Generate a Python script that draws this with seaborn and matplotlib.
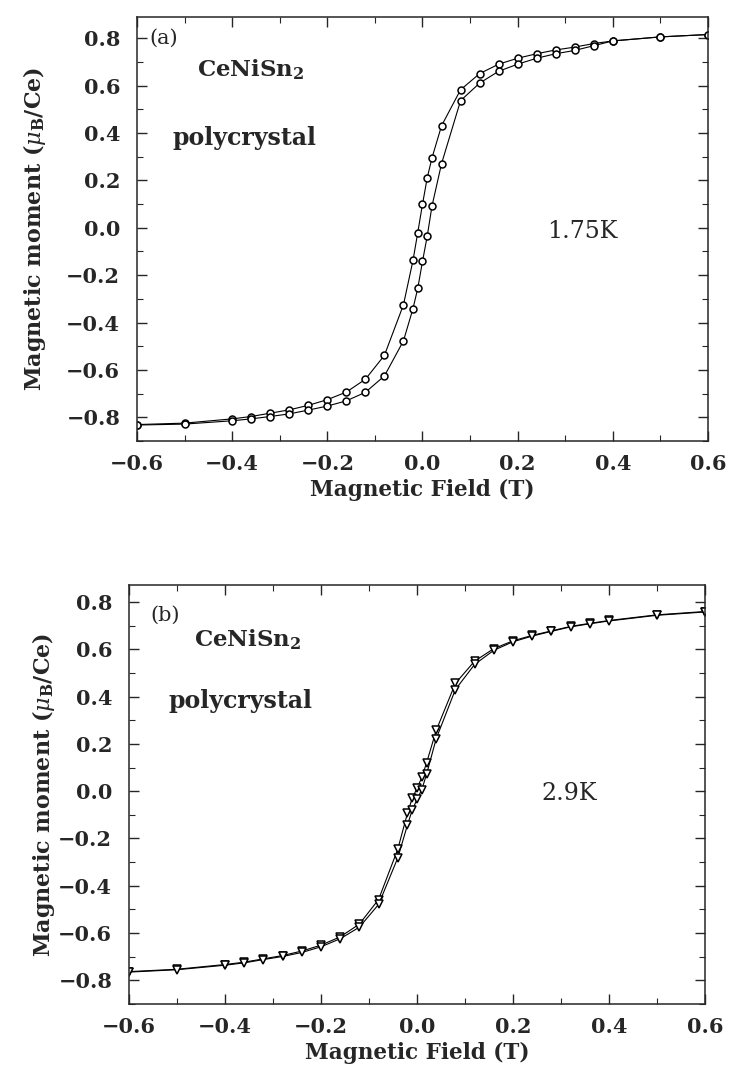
import numpy as np
import pandas as pd
import matplotlib
matplotlib.use("Agg")
import matplotlib.pyplot as plt
import seaborn as sns
from matplotlib.ticker import MultipleLocator, FuncFormatter

# ---------------- data ----------------
# panel (a): 1.75 K, descending branch (from +0.6 T to -0.6 T)
a_down_field = [0.6, 0.5, 0.4, 0.36, 0.32, 0.28, 0.24, 0.2, 0.16, 0.12, 0.08, 0.04,
                0.02, 0.01, 0.0, -0.01, -0.02, -0.04, -0.08, -0.12, -0.16, -0.2,
                -0.24, -0.28, -0.32, -0.36, -0.4, -0.5, -0.6]
a_down_moment = [0.815, 0.805, 0.788, 0.777, 0.762, 0.750, 0.734, 0.715, 0.690, 0.650,
                 0.582, 0.430, 0.295, 0.211, 0.099, -0.021, -0.138, -0.325, -0.538,
                 -0.639, -0.693, -0.725, -0.749, -0.768, -0.782, -0.796, -0.806,
                 -0.824, -0.830]
# panel (a): ascending branch (from -0.6 T to +0.6 T)
a_up_field = [-0.6, -0.5, -0.4, -0.36, -0.32, -0.28, -0.24, -0.2, -0.16, -0.12, -0.08,
              -0.04, -0.02, -0.01, 0.0, 0.01, 0.02, 0.04, 0.08, 0.12, 0.16, 0.2, 0.24,
              0.28, 0.32, 0.36, 0.4, 0.5, 0.6]
a_up_moment = [-0.832, -0.828, -0.814, -0.806, -0.796, -0.785, -0.769, -0.752, -0.730,
               -0.694, -0.625, -0.477, -0.341, -0.256, -0.142, -0.035, 0.092, 0.270,
               0.536, 0.610, 0.660, 0.690, 0.715, 0.734, 0.748, 0.768, 0.788, 0.805,
               0.815]

# panel (b): 2.9 K
b_down_field = a_down_field
b_down_moment = [0.760, 0.746, 0.722, 0.710, 0.697, 0.678, 0.659, 0.636, 0.603, 0.550,
                 0.456, 0.257, 0.120, 0.058, 0.012, -0.030, -0.094, -0.245, -0.458,
                 -0.562, -0.616, -0.651, -0.676, -0.695, -0.709, -0.723, -0.733,
                 -0.753, -0.763]
b_up_field = a_up_field
b_up_moment = [-0.765, -0.755, -0.736, -0.726, -0.712, -0.699, -0.682, -0.658, -0.624,
               -0.575, -0.479, -0.282, -0.144, -0.080, -0.035, 0.007, 0.072, 0.222,
               0.430, 0.536, 0.596, 0.632, 0.656, 0.676, 0.695, 0.708, 0.720, 0.744,
               0.758]

x_ticks = [-0.6, -0.4, -0.2, 0.0, 0.2, 0.4, 0.6]
y_ticks = [-0.8, -0.6, -0.4, -0.2, 0.0, 0.2, 0.4, 0.6, 0.8]
temps = ["1.75K", "2.9K"]
panel_tags = ["(a)", "(b)"]

# ---------------- style ----------------
sns.set_style("ticks")
plt.rcParams["font.family"] = ["DejaVu Serif"]
plt.rcParams["mathtext.fontset"] = "dejavuserif"
plt.rcParams["xtick.direction"] = "in"
plt.rcParams["ytick.direction"] = "in"

fig = plt.figure(figsize=(7.34, 10.76), dpi=100)
ax_a = fig.add_axes([0.1866, 0.590, 0.7780, 0.394])
ax_b = fig.add_axes([0.1757, 0.0669, 0.7848, 0.3894])


def make_df(f1, m1, f2, m2):
    return pd.DataFrame({
        "field": list(f1) + list(f2),
        "moment": list(m1) + list(m2),
        "branch": ["down"] * len(f1) + ["up"] * len(f2),
    })


fmt = FuncFormatter(lambda v, p: f"{v:.1f}".replace("-", "\u2212"))

panels = [
    dict(ax=ax_a, df=make_df(a_down_field, a_down_moment, a_up_field, a_up_moment),
         mk="o", ms=5.0, ylim=(-0.9, 0.888),
         tag=(-0.573, 0.775), comp=(-0.473, 0.638), poly=(-0.526, 0.351),
         temp=(0.2625, -0.045), ylab_x=-0.155),
    dict(ax=ax_b, df=make_df(b_down_field, b_down_moment, b_up_field, b_up_moment),
         mk="v", ms=5.5, ylim=(-0.9, 0.872),
         tag=(-0.556, 0.722), comp=(-0.465, 0.614), poly=(-0.517, 0.354),
         temp=(0.26, -0.038), ylab_x=-0.125),
]

for i, p in enumerate(panels):
    ax = p["ax"]
    sns.lineplot(data=p["df"], x="field", y="moment", units="branch", estimator=None,
                 sort=False, ax=ax, color="black", linewidth=0.8, marker=p["mk"],
                 markersize=p["ms"], markerfacecolor="white", markeredgecolor="black",
                 markeredgewidth=1.1, legend=False)
    ax.set_xlim(-0.6, 0.6)
    ax.set_ylim(*p["ylim"])
    ax.set_xticks(x_ticks)
    ax.set_yticks(y_ticks)
    ax.xaxis.set_minor_locator(MultipleLocator(0.1))
    ax.yaxis.set_minor_locator(MultipleLocator(0.1))
    ax.xaxis.set_major_formatter(fmt)
    ax.yaxis.set_major_formatter(fmt)
    ax.tick_params(which="both", top=True, right=True, direction="in")
    ax.tick_params(which="major", length=7, width=1.0, labelsize=15)
    ax.tick_params(which="minor", length=4, width=0.8)
    ax.tick_params(axis="x", which="major", pad=9)
    ax.tick_params(axis="y", which="major", pad=12)
    for lab in ax.get_xticklabels() + ax.get_yticklabels():
        lab.set_fontweight("bold")
    for sp in ax.spines.values():
        sp.set_linewidth(1.1)
    ax.set_xlabel("Magnetic Field (T)", fontsize=15.5, fontweight="bold", labelpad=4)
    ax.set_ylabel(r"Magnetic moment ($\mu_\mathbf{B}$/Ce)", fontsize=16,
                  fontweight="bold")
    ax.yaxis.set_label_coords(p["ylab_x"], 0.5)
    ax.text(*p["tag"], panel_tags[i], fontsize=15, ha="left", va="baseline")
    ax.text(*p["comp"], r"CeNiSn$_\mathbf{2}$", fontsize=16.5, fontweight="bold",
            ha="left", va="baseline")
    ax.text(*p["poly"], "polycrystal", fontsize=17, fontweight="bold",
            ha="left", va="baseline")
    ax.text(*p["temp"], temps[i], fontsize=17, ha="left", va="baseline")

fig.savefig("out.png", dpi=100)
